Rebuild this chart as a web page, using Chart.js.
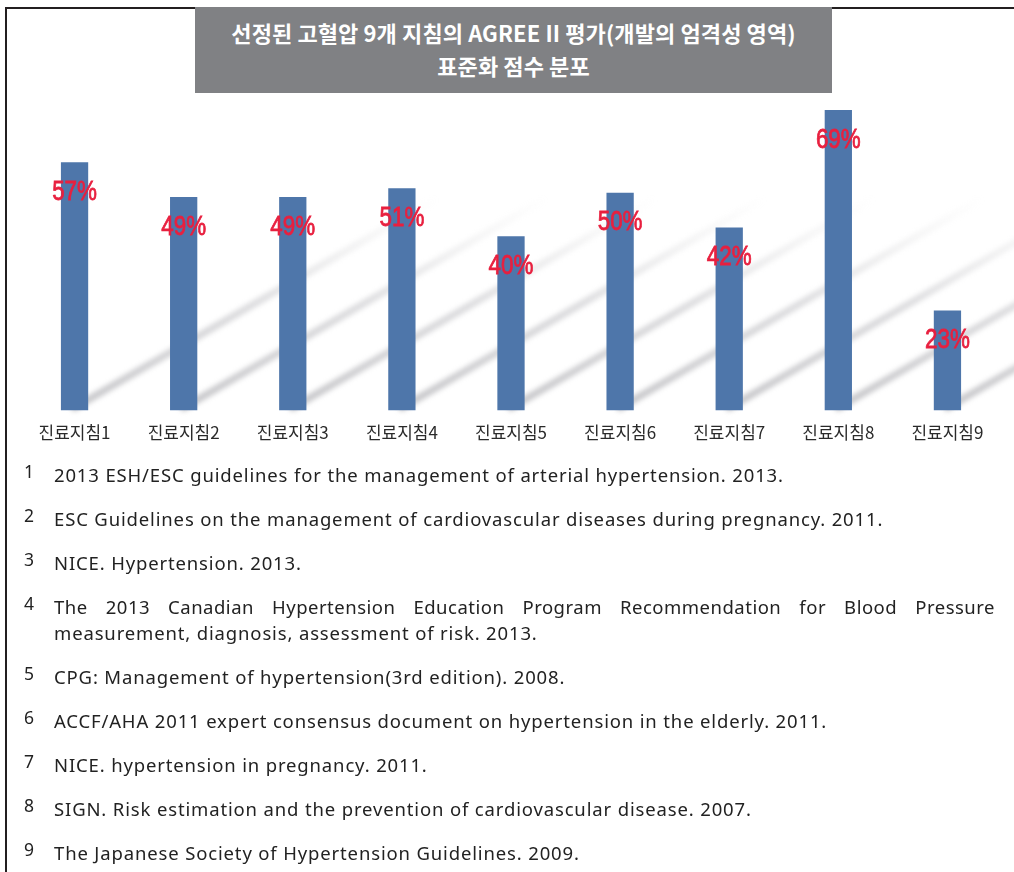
<!DOCTYPE html>
<html><head><meta charset="utf-8">
<script src="https://cdn.jsdelivr.net/npm/chart.js@4.4.0/dist/chart.umd.min.js"></script>
<style>
html,body{margin:0;padding:0;background:#fff;}
body{width:1014px;height:872px;position:relative;overflow:hidden;font-family:"Noto Sans CJK KR","Noto Sans",sans-serif;}
#chartBox{position:absolute;left:0;top:0;width:1014px;height:455px;}
#frameTop{position:absolute;left:5px;top:7px;width:1009px;height:2px;background:#231f20;}
#frameLeft{position:absolute;left:5px;top:7px;width:2px;height:865px;background:#231f20;}
#title{position:absolute;left:195px;top:7px;width:637px;height:86px;background:#808184;color:#fff;font-weight:700;font-size:22px;line-height:33px;text-align:center;box-sizing:border-box;padding-top:9px;letter-spacing:0.1px;}
#refs{position:absolute;left:0;top:462px;width:1014px;}
.ref{position:relative;font-family:"Noto Sans",sans-serif;font-size:18.5px;letter-spacing:0.85px;color:#222;line-height:26px;margin-bottom:18px;padding-left:54px;width:941px;}
.num{position:absolute;left:20px;width:18px;text-align:center;top:-4px;letter-spacing:0;font-size:17.5px;}
.justline{text-align:justify;text-align-last:justify;letter-spacing:0.5px;}
</style></head>
<body>
<div id="chartBox"><canvas id="c" width="1014" height="455"></canvas></div>
<div id="frameTop"></div><div id="frameLeft"></div>
<div id="title">선정된 고혈압 9개 지침의 AGREE II 평가(개발의 엄격성 영역)<br>표준화 점수 분포</div>
<div id="refs"></div>
<script>
const categories = ['진료지침1','진료지침2','진료지침3','진료지침4','진료지침5','진료지침6','진료지침7','진료지침8','진료지침9'];
const scores = [57, 49, 49, 51, 40, 50, 42, 69, 23];
const scoreLabels = ['57%','49%','49%','51%','40%','50%','42%','69%','23%'];
const refNumbers = ['1','2','3','4','5','6','7','8','9'];
const refTexts = [
  ['2013 ESH/ESC guidelines for the management of arterial hypertension. 2013.'],
  ['ESC Guidelines on the management of cardiovascular diseases during pregnancy. 2011.'],
  ['NICE. Hypertension. 2013.'],
  ['The 2013 Canadian Hypertension Education Program Recommendation for Blood Pressure', 'measurement, diagnosis, assessment of risk. 2013.'],
  ['CPG: Management of hypertension(3rd edition). 2008.'],
  ['ACCF/AHA 2011 expert consensus document on hypertension in the elderly. 2011.'],
  ['NICE. hypertension in pregnancy. 2011.'],
  ['SIGN. Risk estimation and the prevention of cardiovascular disease. 2007.'],
  ['The Japanese Society of Hypertension Guidelines. 2009.']
];

const refsEl = document.getElementById('refs');
refTexts.forEach((lines, i) => {
  const d = document.createElement('div');
  d.className = 'ref';
  const n = document.createElement('span');
  n.className = 'num';
  n.textContent = refNumbers[i];
  d.appendChild(n);
  lines.forEach((t, j) => {
    const l = document.createElement('div');
    if (lines.length > 1 && j < lines.length - 1) l.className = 'justline';
    l.textContent = t;
    d.appendChild(l);
  });
  refsEl.appendChild(d);
});

const stripePlugin = {
  id: 'stripes',
  beforeDatasetsDraw(chart) {
    const {ctx, chartArea} = chart;
    const meta = chart.getDatasetMeta(0);
    const ang = Math.PI / 6, len = 420;
    meta.data.forEach(bar => {
      const x0 = bar.x, y0 = chartArea.bottom - 3;
      const x1 = x0 + len * Math.cos(ang), y1 = y0 - len * Math.sin(ang);
      const g = ctx.createLinearGradient(x0, y0, x1, y1);
      g.addColorStop(0, 'rgba(160,160,165,0.6)');
      g.addColorStop(0.5, 'rgba(180,180,185,0.45)');
      g.addColorStop(1, 'rgba(210,210,210,0)');
      ctx.save();
      ctx.filter = 'blur(2.5px)';
      ctx.strokeStyle = g;
      ctx.lineWidth = 7;
      ctx.lineCap = 'round';
      ctx.beginPath();
      ctx.moveTo(x0, y0);
      ctx.lineTo(x1, y1);
      ctx.stroke();
      ctx.restore();
    });
  }
};

const labelPlugin = {
  id: 'valueLabels',
  afterDatasetsDraw(chart) {
    const {ctx} = chart;
    const meta = chart.getDatasetMeta(0);
    meta.data.forEach((bar, i) => {
      ctx.save();
      ctx.translate(bar.x, bar.y + 30);
      ctx.scale(0.8, 1);
      ctx.font = '28px "Liberation Sans", Arial, sans-serif';
      ctx.fillStyle = '#e8203f';
      ctx.strokeStyle = '#e8203f';
      ctx.lineWidth = 0.8;
      ctx.textAlign = 'center';
      ctx.textBaseline = 'middle';
      ctx.fillText(scoreLabels[i], 0, 0);
      ctx.strokeText(scoreLabels[i], 0, 0);
      ctx.restore();
    });
  }
};

new Chart(document.getElementById('c'), {
  type: 'bar',
  data: {
    labels: categories,
    datasets: [{
      data: scores,
      backgroundColor: '#4e76aa',
      barPercentage: 0.5,
      categoryPercentage: 0.5
    }]
  },
  options: {
    responsive: false,
    animation: false,
    layout: {padding: {top: 62, left: 20, right: 12, bottom: 0}},
    plugins: {legend: {display: false}, tooltip: {enabled: false}},
    scales: {
      x: {
        grid: {display: false, drawTicks: false},
        border: {display: false},
        ticks: {color: '#2a2a2a', font: {family: '"Noto Sans CJK KR", sans-serif', size: 17}, padding: 12, maxRotation: 0, autoSkip: false}
      },
      y: {display: false, min: 0, max: 80}
    }
  },
  plugins: [stripePlugin, labelPlugin]
});
</script>
</body></html>
